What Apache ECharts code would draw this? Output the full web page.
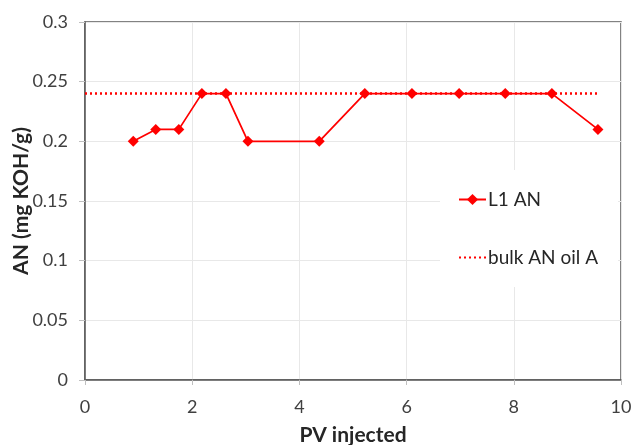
<!DOCTYPE html>
<html>
<head>
<meta charset="utf-8">
<script src="https://cdn.jsdelivr.net/npm/echarts@6/dist/echarts.min.js"></script>
<style>
html,body{margin:0;padding:0;background:#fff;}
#chart{width:634px;height:445px;}
</style>
</head>
<body>
<div id="chart"></div>
<script>
const pvInjected = [0.90, 1.32, 1.75, 2.18, 2.63, 3.04, 4.37, 5.22, 6.10, 6.98, 7.84, 8.71, 9.57];
const l1AN = [0.20, 0.21, 0.21, 0.24, 0.24, 0.20, 0.20, 0.24, 0.24, 0.24, 0.24, 0.24, 0.21];
const bulkX = [0, 9.6];
const bulkAN = [0.24, 0.24];
const seriesNames = ['L1 AN', 'bulk AN oil A'];
const xAxisTitle = 'PV injected';
const yAxisTitle = 'AN (mg KOH/g)';

const font = 'Lato, "Open Sans", sans-serif';
const chart = echarts.init(document.getElementById('chart'), null, {renderer: 'canvas'});
chart.setOption({
  animation: false,
  grid: {left: 85, right: 13, top: 22, bottom: 65, containLabel: false, outerBoundsMode: 'none',
         show: true, borderColor: '#595959', borderWidth: 1.5, backgroundColor: 'transparent'},
  legend: {
    orient: 'vertical', left: 440, top: 170,
    backgroundColor: '#fff', padding: [20, 20, 20, 18], itemGap: 39,
    itemWidth: 27, itemHeight: 14,
    textStyle: {fontFamily: font, fontSize: 19, color: '#262626', padding: [0,0,0,-3]},
    data: [
      {name: seriesNames[0]},
      {name: seriesNames[1], itemStyle: {opacity: 0, borderWidth: 0}}
    ]
  },
  xAxis: {
    type: 'value', min: 0, max: 10, interval: 2,
    name: xAxisTitle, nameLocation: 'middle', nameGap: 45, nameMoveOverlap: false,
    nameTextStyle: {fontFamily: font, fontSize: 21, fontWeight: 'bold', color: '#262626'},
    axisLine: {show: true, lineStyle: {color: '#595959', width: 1.5}},
    axisTick: {show: true, length: 5, lineStyle: {color: '#bfbfbf'}},
    axisLabel: {fontFamily: font, fontSize: 18, color: '#404040', margin: 18},
    splitLine: {show: true, lineStyle: {color: '#e8e8e8', width: 1}}
  },
  yAxis: {
    type: 'value', min: 0, max: 0.3, interval: 0.05,
    name: yAxisTitle, nameLocation: 'middle', nameGap: 53, nameRotate: 90, nameMoveOverlap: false,
    nameTextStyle: {fontFamily: font, fontSize: 21, fontWeight: 'bold', color: '#262626'},
    axisLine: {show: true, lineStyle: {color: '#595959', width: 1.5}},
    axisTick: {show: true, length: 6, lineStyle: {color: '#bfbfbf'}},
    axisLabel: {fontFamily: font, fontSize: 18, color: '#404040', margin: 17},
    splitLine: {show: true, lineStyle: {color: '#e8e8e8', width: 1}}
  },
  series: [
    {
      name: seriesNames[0], type: 'line',
      data: pvInjected.map((x, i) => [x, l1AN[i]]),
      symbol: 'diamond', symbolSize: 11,
      itemStyle: {color: '#ff0000'},
      lineStyle: {color: '#ff0000', width: 1.75},
      z: 3
    },
    {
      name: seriesNames[1], type: 'line',
      data: bulkX.map((x, i) => [x, bulkAN[i]]),
      symbol: 'none',
      itemStyle: {color: '#ff0000'},
      lineStyle: {color: '#ff0000', width: 2.5, type: [2, 3]},
      z: 2
    }
  ]
});
</script>
</body>
</html>
